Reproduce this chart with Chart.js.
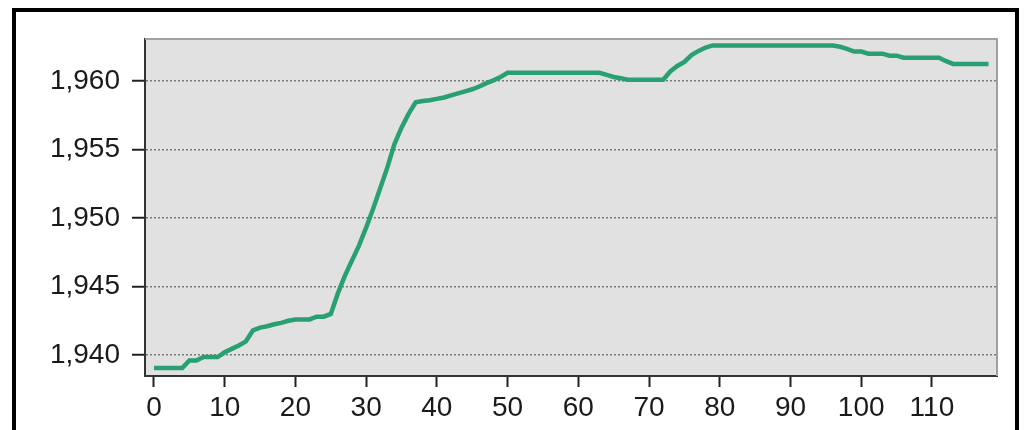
<!DOCTYPE html>
<html>
<head>
<meta charset="utf-8">
<script src="https://cdn.jsdelivr.net/npm/chart.js@4/dist/chart.umd.min.js"></script>
<style>
  body { margin: 0; background: #fff; }
  #wrap { position: relative; width: 1024px; height: 430px; overflow: hidden; }
  #frame { position: absolute; left: 12px; top: 8px; width: 999px; height: 440px;
           border: 4px solid #000; border-bottom: none; }
</style>
</head>
<body>
<div id="wrap">
  <canvas id="myChart" width="1024" height="430"></canvas>
  <div id="frame"></div>
</div>
<script>
// sample index 0..118, one reading each
const xValues = [];
for (let i = 0; i <= 118; i++) xValues.push(i);

const readings = [
  1939.05, 1939.05, 1939.05, 1939.05, 1939.05, 1939.6, 1939.6, 1939.85, 1939.85, 1939.85,
  1940.2, 1940.45, 1940.7, 1941.0, 1941.8, 1942.0, 1942.1, 1942.25, 1942.35, 1942.5,
  1942.6, 1942.6, 1942.6, 1942.8, 1942.8, 1943.0, 1944.5, 1945.8, 1946.9, 1948.0,
  1949.3, 1950.7, 1952.2, 1953.7, 1955.4, 1956.6, 1957.6, 1958.45, 1958.55, 1958.6,
  1958.7, 1958.8, 1958.95, 1959.1, 1959.25, 1959.4, 1959.6, 1959.85, 1960.05, 1960.3,
  1960.6, 1960.6, 1960.6, 1960.6, 1960.6, 1960.6, 1960.6, 1960.6, 1960.6, 1960.6,
  1960.6, 1960.6, 1960.6, 1960.6, 1960.45, 1960.3, 1960.2, 1960.1, 1960.1, 1960.1,
  1960.1, 1960.1, 1960.1, 1960.7, 1961.1, 1961.4, 1961.9, 1962.2, 1962.45, 1962.6,
  1962.6, 1962.6, 1962.6, 1962.6, 1962.6, 1962.6, 1962.6, 1962.6, 1962.6, 1962.6,
  1962.6, 1962.6, 1962.6, 1962.6, 1962.6, 1962.6, 1962.6, 1962.5, 1962.35, 1962.15,
  1962.15, 1962.0, 1962.0, 1962.0, 1961.85, 1961.85, 1961.7, 1961.7, 1961.7, 1961.7,
  1961.7, 1961.7, 1961.45, 1961.25, 1961.25, 1961.25, 1961.25, 1961.25, 1961.25
];

const xTicks = [0, 10, 20, 30, 40, 50, 60, 70, 80, 90, 100, 110];
const yTicks = [1940, 1945, 1950, 1955, 1960];

const points = xValues.map((x, i) => ({ x: x, y: readings[i] }));

// grey plot box with a light top/right border
const plotBox = {
  id: "plotBox",
  beforeDraw(chart) {
    const a = chart.chartArea, ctx = chart.ctx;
    ctx.save();
    ctx.fillStyle = "#e1e1e1";
    ctx.fillRect(a.left, a.top, a.right - a.left, a.bottom - a.top);
    ctx.restore();
  },
  afterDraw(chart) {
    const a = chart.chartArea, ctx = chart.ctx;
    ctx.save();
    ctx.strokeStyle = "#a0a0a0";
    ctx.lineWidth = 2;
    ctx.beginPath();
    ctx.moveTo(a.left, a.top);
    ctx.lineTo(a.right, a.top);
    ctx.lineTo(a.right, a.bottom);
    ctx.stroke();
    ctx.restore();
  }
};

const fnt = { family: "'Liberation Sans', Arial, sans-serif", size: 28 };

new Chart("myChart", {
  type: "line",
  data: {
    datasets: [{
      data: points,
      borderColor: "#28a072",
      borderWidth: 4.5,
      borderJoinStyle: "miter",
      tension: 0,
      pointRadius: 0,
      fill: false
    }]
  },
  options: {
    responsive: false,
    animation: false,
    layout: { padding: { left: 0, right: 27, top: 39, bottom: 0 } },
    plugins: { legend: { display: false }, tooltip: { enabled: false } },
    scales: {
      x: {
        type: "linear",
        min: -1.27,
        max: 119.2,
        afterBuildTicks: (s) => { s.ticks = xTicks.map(v => ({ value: v })); },
        afterFit: (s) => { s.height = 54; },
        grid: { drawOnChartArea: false, tickLength: 11, tickColor: "#222", tickWidth: 2 },
        border: { color: "#333", width: 2 },
        ticks: { color: "#1a1a1a", font: fnt, padding: 4, maxRotation: 0, autoSkip: false }
      },
      y: {
        min: 1938.47,
        max: 1963.07,
        afterBuildTicks: (s) => { s.ticks = yTicks.map(v => ({ value: v })); },
        afterFit: (s) => { s.width = 145; },
        grid: {
          color: "#7a7a7a",
          lineWidth: 1.5,
          tickBorderDash: [],
          tickLength: 13,
          tickColor: "#222",
          tickWidth: 2
        },
        border: { color: "#333", width: 2, dash: [2, 2] },
        ticks: {
          color: "#1a1a1a",
          font: fnt,
          padding: 12,
          callback: (v) => v.toLocaleString("en-US")
        }
      }
    }
  },
  plugins: [plotBox]
});
</script>
</body>
</html>
